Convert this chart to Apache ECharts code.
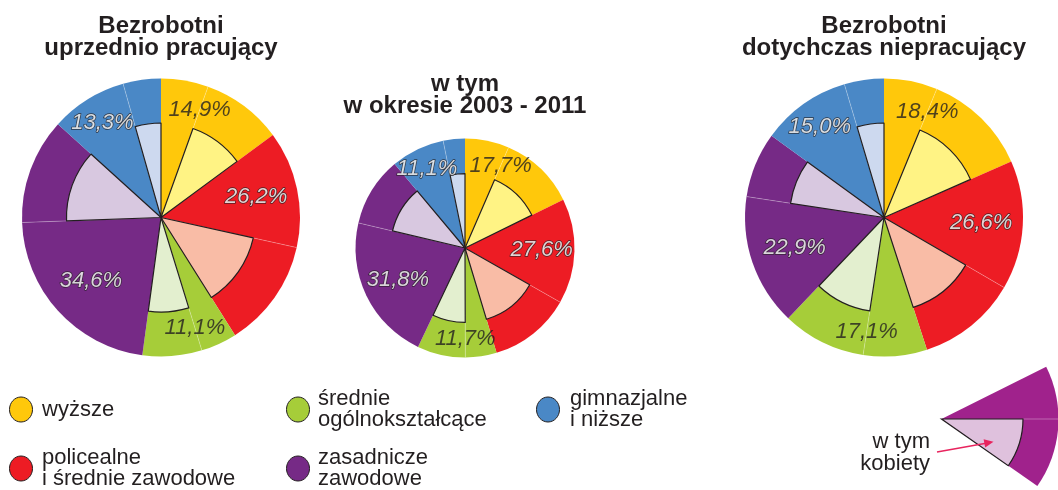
<!DOCTYPE html>
<html>
<head>
<meta charset="utf-8">
<script src="https://cdn.jsdelivr.net/npm/echarts@6.0.0/dist/echarts.min.js"></script>
<style>
  html, body { margin: 0; padding: 0; background: #fff; }
  #chart { width: 1058px; height: 490px; }
</style>
</head>
<body>
<div id="chart"></div>
<script>
// kategorie wykształcenia
const categories = ['wyższe', 'policealne\ni średnie zawodowe', 'średnie\nogólnokształcące', 'zasadnicze\nzawodowe', 'gimnazjalne\ni niższe'];

// udział w % (całość) i część przypadająca na kobiety
const prevWorked = [14.9, 26.2, 11.1, 34.6, 13.3];
const prevWorkedWomen = [9.4, 12.6, 6.9, 12.3, 4.4];
const recent = [17.7, 27.6, 11.7, 31.8, 11.1];
const recentWomen = [11.2, 12.1, 7.1, 10.2, 3.2];
const neverWorked = [18.4, 26.6, 17.1, 22.9, 15.0];
const neverWorkedWomen = [12.2, 11.6, 9.7, 7.6, 4.6];

const colors = ['#ffc80b', '#ed1c24', '#a6cd39', '#762a86', '#4a88c6'];
const lightColors = ['#fff384', '#f9bca6', '#e3efcf', '#d8c8e0', '#cdd9ef'];
const dark = '#231f20';
const font = '"Liberation Sans", Arial, Helvetica, sans-serif';

// gdzie stoi etykieta: na granicy części "kobiety" albo w środku reszty
const labelAnchor = ['edge', 'mid', 'edge', 'mid', 'mid'];
const labelRadius = [0.82, 0.7, 0.83, 0.68, 0.8];
const whiteLabel = [false, true, false, true, true];

const pies = [
  { total: prevWorked, women: prevWorkedWomen, center: [161, 217.5], r: 139,
    title: 'Bezrobotni\nuprzednio pracujący', titleY: 15 },
  { total: recent, women: recentWomen, center: [465, 248], r: 109.5,
    title: 'w tym\nw okresie 2003 - 2011', titleY: 73.5 },
  { total: neverWorked, women: neverWorkedWomen, center: [884, 217.5], r: 139,
    title: 'Bezrobotni\ndotychczas niepracujący', titleY: 15 }
];
const innerRatio = 0.68;

const fmt = v => v.toFixed(1).replace('.', ',') + '%';

const series = [];
const polar = [], angleAxis = [], radiusAxis = [];
const graphic = [];

pies.forEach((p, k) => {
  const sum = p.total.reduce((a, b) => a + b, 0);
  polar.push({ center: p.center, radius: p.r });
  angleAxis.push({ polarIndex: k, type: 'value', min: 0, max: sum, startAngle: 90, clockwise: true, show: false });
  radiusAxis.push({ polarIndex: k, type: 'value', min: 0, max: 1, show: false });

  const outerData = [], innerData = [], labelData = [];
  let cum = 0;
  p.total.forEach((t, i) => {
    const rest = t - p.women[i];
    outerData.push({ value: rest, itemStyle: { color: colors[i] } });
    outerData.push({ value: p.women[i], itemStyle: { color: colors[i] } });
    innerData.push({ value: rest, itemStyle: { color: 'rgba(0,0,0,0)', borderWidth: 0 } });
    innerData.push({ value: p.women[i], itemStyle: { color: lightColors[i], borderColor: dark, borderWidth: 1.2 } });

    // cienka jasna linia między częściami kategorii
    const edge = cum + rest;
    series.push({
      type: 'line', coordinateSystem: 'polar', polarIndex: k, silent: true, z: 2,
      showSymbol: false, symbol: 'none',
      lineStyle: { color: 'rgba(255,255,255,0.35)', width: 0.8 },
      data: [[0, edge], [1, edge]]
    });

    const ang = labelAnchor[i] === 'edge' ? edge : cum + rest / 2;
    labelData.push({
      name: fmt(t),
      value: [labelRadius[i], ang],
      label: whiteLabel[i]
        ? { color: '#fff', textBorderColor: dark, textBorderWidth: 1.4 }
        : { color: dark }
    });
    cum += t;
  });

  series.push({
    type: 'pie', center: p.center, radius: [0, p.r], startAngle: 90, clockwise: true,
    silent: true, z: 1, label: { show: false }, labelLine: { show: false },
    itemStyle: { borderWidth: 0 }, data: outerData
  });
  series.push({
    type: 'pie', center: p.center, radius: [0, p.r * innerRatio], startAngle: 90, clockwise: true,
    silent: true, z: 3, label: { show: false }, labelLine: { show: false },
    data: innerData
  });
  series.push({
    type: 'scatter', coordinateSystem: 'polar', polarIndex: k, silent: true, z: 4,
    symbolSize: 0,
    label: { show: true, position: 'inside', formatter: '{b}', fontSize: 22, fontStyle: 'italic', fontFamily: font },
    data: labelData
  });

  graphic.push({
    type: 'text', x: p.center[0], y: p.titleY, silent: true,
    style: { text: p.title, fill: dark, fontSize: 24, fontWeight: 'bold', fontFamily: font,
      textAlign: 'center', textVerticalAlign: 'top', lineHeight: 22 }
  });
});

// legenda
const legendCols = [[21, 42], [298, 318], [548, 570]];
const legendPos = [[0, 0], [0, 1], [1, 0], [1, 1], [2, 0]];
const rowY = [409.5, 468.5];
categories.forEach((c, i) => {
  const col = legendCols[legendPos[i][0]];
  const y = rowY[legendPos[i][1]];
  graphic.push({
    type: 'ellipse', silent: true,
    shape: { cx: col[0], cy: y, rx: 11.5, ry: 12.5 },
    style: { fill: colors[i], stroke: dark, lineWidth: 1 }
  });
  graphic.push({
    type: 'text', x: col[1], y: y, silent: true,
    style: { text: c, fill: dark, fontSize: 22, fontFamily: font,
      textAlign: 'left', textVerticalAlign: 'middle', lineHeight: 21 }
  });
});

// objaśnienie "w tym kobiety"
const rad = d => d * Math.PI / 180;
const kx = 941.5, ky = 419;
graphic.push(
  { type: 'sector', silent: true, shape: { cx: kx, cy: ky, r: 117, r0: 0, startAngle: rad(-26.5), endAngle: rad(35), clockwise: true },
    style: { fill: '#a0228c' } },
  { type: 'line', silent: true, shape: { x1: kx + 81.5, y1: ky, x2: kx + 118, y2: ky },
    style: { stroke: 'rgba(255,255,255,0.4)', lineWidth: 0.8 } },
  { type: 'sector', silent: true, shape: { cx: kx, cy: ky, r: 81.5, r0: 0, startAngle: 0, endAngle: rad(35), clockwise: true },
    style: { fill: '#dfc1dd', stroke: dark, lineWidth: 1.2 } },
  { type: 'text', x: 930, y: 453, silent: true,
    style: { text: 'w tym\nkobiety', fill: dark, fontSize: 22, fontFamily: font,
      textAlign: 'right', textVerticalAlign: 'middle', lineHeight: 22 } },
  { type: 'line', silent: true, shape: { x1: 937, y1: 452, x2: 986, y2: 443.3 },
    style: { stroke: '#e8245e', lineWidth: 1.6 } },
  { type: 'polygon', silent: true, shape: { points: [[993.5, 441.7], [985.2, 447.4], [983.6, 439.2]] },
    style: { fill: '#e8245e' } }
);

const chart = echarts.init(document.getElementById('chart'));
chart.setOption({
  animation: false,
  backgroundColor: '#fff',
  polar: polar,
  angleAxis: angleAxis,
  radiusAxis: radiusAxis,
  series: series,
  graphic: graphic
});
</script>
</body>
</html>
